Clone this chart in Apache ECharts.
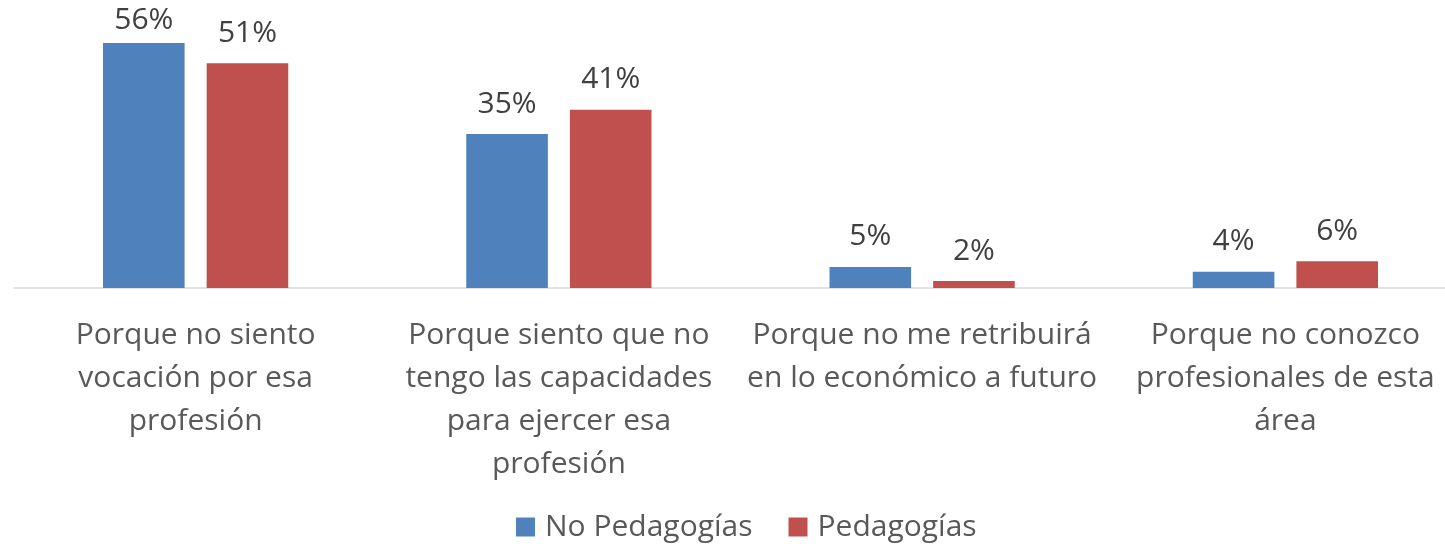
<!DOCTYPE html>
<html>
<head>
<meta charset="utf-8">
<script src="https://cdn.jsdelivr.net/npm/echarts@6/dist/echarts.min.js"></script>
<style>
  html, body { margin: 0; padding: 0; background: #fff; }
  #chart { width: 1445px; height: 544px; }
</style>
</head>
<body>
<div id="chart"></div>
<script>
// categorías (saltos de línea como en el original)
const categories = [
  'Porque no siento\nvocación por esa\nprofesión',
  'Porque siento que no\ntengo las capacidades\npara ejercer esa\nprofesión',
  'Porque no me retribuirá\nen lo económico a futuro',
  'Porque no conozco\nprofesionales de esta\nárea'
]
const seriesNames = ['No Pedagogías', 'Pedagogías']
// valores (%)
const noPedagogias = [55.7, 35.0, 4.8, 3.7]
const pedagogias = [51.1, 40.5, 1.6, 6.1]

const fontFamily = '"Open Sans", sans-serif'
const chart = echarts.init(document.getElementById('chart'))

const valueLabel = {
  show: true,
  position: 'top',
  distance: 15,
  color: '#404040',
  fontSize: 30,
  fontFamily: fontFamily,
  formatter(p) {
    return Math.round(p.value) + '%'
  }
}

// las etiquetas que se salen por arriba se bajan hasta el borde
function keepInside(params) {
  const minY = 5
  if (params.labelRect.y < minY) {
    return { dy: minY - params.labelRect.y }
  }
  return {}
}

chart.setOption({
  animation: false,
  color: ['#4f81bd', '#c0504d'],
  textStyle: { fontFamily: fontFamily },
  grid: {
    left: 14,
    right: -22, // el área de trazado sobrepasa el borde derecho, como en el original
    top: 24,
    bottom: 256,
    outerBoundsMode: 'none'
  },
  legend: {
    bottom: -3,
    left: 511,
    itemWidth: 19,
    itemHeight: 19,
    itemGap: 36,
    icon: 'rect',
    textStyle: { color: '#595959', fontSize: 30, fontFamily: fontFamily, padding: [0, 0, 0, 5] },
    data: seriesNames
  },
  xAxis: {
    type: 'category',
    data: categories,
    axisLine: { lineStyle: { color: '#d9d9d9', width: 1.5 } },
    axisTick: { show: false },
    axisLabel: {
      interval: 0,
      color: '#595959',
      fontSize: 30,
      lineHeight: 43,
      margin: 26,
      fontFamily: fontFamily
    }
  },
  yAxis: {
    type: 'value',
    min: 0,
    max: 60,
    show: false,
    splitLine: { show: false }
  },
  series: [
    {
      name: seriesNames[0],
      type: 'bar',
      data: noPedagogias,
      barGap: '27%',
      barCategoryGap: '49%',
      label: valueLabel,
      labelLayout: keepInside
    },
    {
      name: seriesNames[1],
      type: 'bar',
      data: pedagogias,
      label: valueLabel,
      labelLayout: keepInside
    }
  ]
})
</script>
</body>
</html>
